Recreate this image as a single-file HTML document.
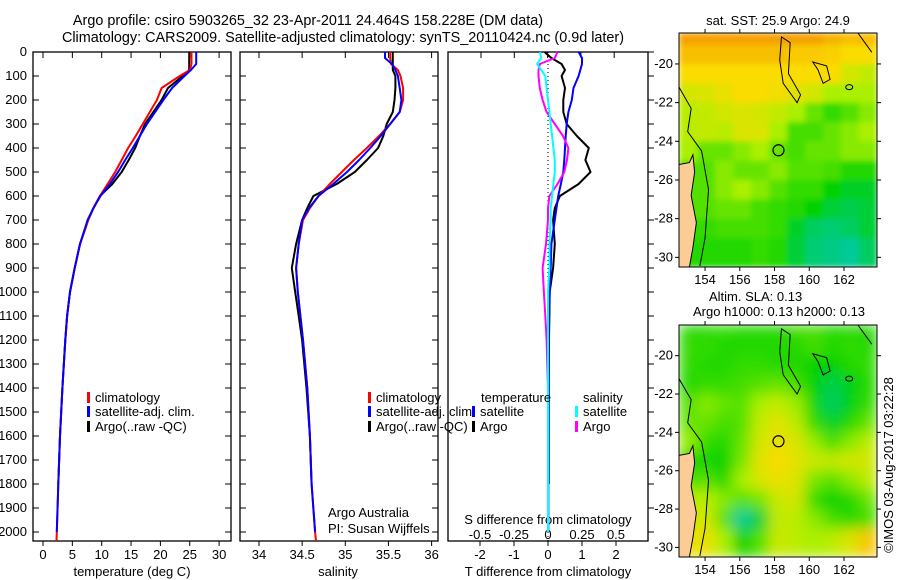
<!DOCTYPE html>
<html><head><meta charset="utf-8"><style>
body{margin:0;background:#fff}
svg{display:block;font-family:"Liberation Sans",sans-serif;font-size:13px}
</style></head><body>
<svg id="c" width="900" height="580" viewBox="0 0 900 580">
<defs><filter id="blur" x="0" y="0" width="1" height="1"><feGaussianBlur stdDeviation="7" edgeMode="duplicate"/></filter>
<filter id="blur2" x="0" y="0" width="1" height="1"><feGaussianBlur stdDeviation="3" edgeMode="duplicate"/></filter>
<clipPath id="clip1"><rect x="679" y="33" width="198" height="234"/></clipPath>
<clipPath id="clip2"><rect x="679" y="325" width="198" height="232"/></clipPath></defs>
<text x="308" y="25" text-anchor="middle" style="font-size:14.4px">Argo profile: csiro 5903265_32 23-Apr-2011 24.464S 158.228E (DM data)</text>
<text x="343" y="42" text-anchor="middle" style="font-size:14.4px">Climatology: CARS2009. Satellite-adjusted climatology: synTS_20110424.nc (0.9d later)</text>
</svg>
<script>
const depths=[0,25,50,75,100,150,200,250,300,350,400,450,500,550,600,650,700,800,900,1000,1100,1200,1400,1600,1800,2000,2037];
const tempArgo=[24.9,24.9,24.9,24.9,23.8,21.3,20.2,18.8,17.4,16.5,15.7,14.6,13.4,11.8,9.7,8.6,7.7,6.3,5.4,4.6,4.1,3.8,3.3,2.9,2.6,null,null];
const tempClim=[25.3,25.3,25.3,25.0,23.3,20.2,19.4,18.2,17.0,15.8,14.5,13.4,12.3,11.0,9.7,8.6,7.7,6.3,5.4,4.6,4.1,3.8,3.3,2.9,2.6,2.35,2.3];
const tempSat=[26.1,26.1,26.1,25.2,24.1,22.0,20.5,19.1,17.7,16.5,15.3,14.0,12.8,11.4,9.8,8.6,7.6,6.3,5.4,4.6,4.1,3.8,3.3,2.9,2.6,2.35,null];
const salArgo=[35.55,35.55,35.55,35.55,35.58,35.58,35.57,35.55,35.48,35.44,35.38,35.25,35.11,34.9,34.63,34.56,34.5,34.43,34.38,34.42,34.46,34.5,34.55,34.59,34.61,null,null];
const salClim=[35.52,35.52,35.53,35.61,35.64,35.67,35.67,35.63,35.52,35.39,35.25,35.1,34.96,34.82,34.69,34.59,34.51,34.46,34.43,34.45,34.48,34.51,34.56,34.59,34.61,34.65,34.66];
const salSat=[35.46,35.46,35.54,35.58,35.61,35.63,35.65,35.63,35.52,35.41,35.29,35.16,35.02,34.86,34.69,34.58,34.5,34.46,34.43,34.45,34.48,34.51,34.56,34.59,34.61,34.65,null];
const dTsat=[0.9,1.0,1.0,0.95,0.9,0.75,0.7,0.6,0.55,0.52,0.5,0.48,0.45,0.38,0.3,0.25,0.2,0.1,0.08,0.05,0.03,0.02,0.02,0.01,0.01,0.01,null];
const dTargo=[-0.1,0.1,0.4,0.5,0.4,0.5,0.45,0.45,0.55,0.85,1.2,1.1,1.25,0.9,0.35,0.2,0.15,0.2,0.15,0.05,0.04,0.03,0.02,0.02,0.02,null,null];
const dSargo=[0.07,0.05,-0.06,-0.07,-0.07,-0.06,-0.04,-0.01,0.05,0.11,0.15,0.14,0.12,0.07,0.01,0.0,0.0,-0.015,-0.04,-0.03,-0.02,-0.01,0,0,0,null,null];
const dSsat=[-0.06,-0.05,-0.08,-0.05,-0.02,-0.01,0,0.01,0.02,0.03,0.04,0.05,0.05,0.04,0.03,0.02,0.02,0.01,0.01,0,0,0,0,0,0,0,null];
const depthTicks=[0,100,200,300,400,500,600,700,800,900,1000,1100,1200,1300,1400,1500,1600,1700,1800,1900,2000];
const tempTicks=[0,5,10,15,20,25,30];
const salTicks=[34,34.5,35,35.5,36];
const tdTicks=[-2,-1,0,1,2];
const sdTicks=[-0.5,-0.25,0,0.25,0.5];
const sdLabels=["-0.5","-0.25","0","0.25","0.5"];
const lats=[-18.5,-19.5,-20.5,-21.5,-22.5,-23.5,-24.5,-25.5,-26.5,-27.5,-28.5,-29.5];
const sstGrid=[
[4,4,4,4,4,4,4,4,3.7,3.5,3.5],[3.5,3.5,3.5,3.5,3.5,3.5,3.3,3.3,3.2,3,3],[3,3,3,3,3,3,3,3,3,2.5,2.3],
[2.5,2.6,2.8,3,3,2.9,2.7,2.5,2,2,2],[2.2,2.3,2.5,2.6,2.5,2.3,2,1.6,1.3,1.5,1.8],[2.2,2.3,2.2,2.6,2.6,2,1.4,1.4,1.6,1.8,2],
[2,1.6,1.6,1.8,2,1.6,1.4,1.6,1.6,1.8,1.8],[1.5,1.5,1.8,1.6,1.6,1.8,1.5,1.5,1.4,1.2,1.2],[1.5,1.5,1.8,2,1.8,1.5,1.3,1.3,1,0.8,0.8],
[1.5,1.5,1.6,1.6,1.4,1.3,1.2,1,0.7,0.6,0.7],[1.3,1.3,1.4,1.4,1.4,1.3,0.8,0.5,0.4,0.5,0.7],[1.2,1.2,1.2,1.2,1.3,1.2,0.7,0.4,0.3,0.2,0.5]];
const slaGrid=[
[1.2,1.2,1.3,1.2,1.2,1.2,1.4,1.4,1.2,1.2,1.2],[1.3,1.3,1.2,1.2,1.2,1.2,1.2,1.4,1.2,1.3,1.2],[1.3,1.2,1.2,1.3,1.3,1.2,1.2,1,1,1.2,1.3],
[1.2,1.3,1.3,1.4,1.5,1.6,1.4,1,0.6,0.9,1.2],[1.5,1.8,1.6,1.5,2,2.3,1.9,1.1,0.5,0.9,1.3],[1.6,1.6,1.4,1.5,2.3,2.7,2.2,1.3,0.8,1.2,1.6],
[1.9,1.3,1.2,1.6,2.5,2.8,2.6,1.9,1.4,1.8,2.2],[1.1,1.1,1.0,1.7,2.7,3,2.7,2.4,2.3,2.5,2.5],[1.5,1.5,1.2,2,2.6,2.8,2.6,1.7,1.5,1.8,2.2],
[2.2,2.2,1.8,1.5,1.7,2.4,2.5,1.3,1.0,1.2,1.6],[2.5,2.5,1.5,0.2,0.7,2.3,2.2,1.8,1.4,1.2,1.4],[2.8,2.8,2,1,1.5,2.4,2.2,2,2.2,2.6,3.4]];
const lonTicks=[154,156,158,160,162];
const latTicks=[-20,-22,-24,-26,-28,-30];

const svg=document.getElementById('c');const NS='http://www.w3.org/2000/svg';
function mk(t,a,p){const e=document.createElementNS(NS,t);for(const k in a)e.setAttribute(k,a[k]);(p||svg).appendChild(e);return e;}
function txt(x,y,s,anchor){const e=mk('text',{x:x,y:y,'text-anchor':anchor||'start'});e.textContent=s;return e;}
const yD=d=>52+d*0.24;
const PB=541;
function panel(x0,x1,name){const r=mk('rect',{x:x0,y:52,width:x1-x0,height:PB-52,fill:'none',stroke:'#000','stroke-width':1.3});

}
function line(xs,xf,color,name,w){let d='';let pen=false;
for(let i=0;i<depths.length;i++){const v=xs[i];if(v===null){pen=false;continue;}
const X=xf(v),Y=Math.min(yD(depths[i]),PB);d+=(pen?'L':'M')+X.toFixed(1)+' '+Y.toFixed(1);pen=true;}
const p=mk('path',{d:d,fill:'none',stroke:color,'stroke-width':w||2,'stroke-linejoin':'round'});

}
const xT=v=>43+v*5.87, xS=v=>259+(v-34)*86.3, xTD=v=>548+v*34, xSD=v=>548+v*136;
const panels=[[33,231],[240,438],[448,648]];
panels.forEach((p,i)=>{panel(p[0],p[1],['temperature-panel','salinity-panel','difference-panel'][i]);
depthTicks.forEach(d=>{const y=yD(d);
if(i<2){mk('line',{x1:p[0],x2:p[0]+6,y1:y,y2:y,stroke:'#000'});mk('line',{x1:p[1],x2:p[1]-6,y1:y,y2:y,stroke:'#000'});}
else{mk('line',{x1:p[1],x2:p[1]+6,y1:y,y2:y,stroke:'#000'});}});});
depthTicks.forEach(d=>{const t=txt(27,yD(d)+4,String(d),'end');

});
tempTicks.forEach(v=>{mk('line',{x1:xT(v),x2:xT(v),y1:PB,y2:PB+5,stroke:'#000'});mk('line',{x1:xT(v),x2:xT(v),y1:52,y2:58,stroke:'#000'});
const t=txt(xT(v),559,String(v),'middle');});
salTicks.forEach(v=>{mk('line',{x1:xS(v),x2:xS(v),y1:PB,y2:PB+5,stroke:'#000'});mk('line',{x1:xS(v),x2:xS(v),y1:52,y2:58,stroke:'#000'});
const t=txt(xS(v),559,String(v),'middle');});
tdTicks.forEach(v=>{mk('line',{x1:xTD(v),x2:xTD(v),y1:PB,y2:PB+5,stroke:'#000'});mk('line',{x1:481+(v+2)*33.3,x2:481+(v+2)*33.3,y1:52,y2:58,stroke:'#000'});
const t=txt(xTD(v),559,String(v),'middle');});
sdTicks.forEach((v,i)=>{const t=txt(xSD(v),539,sdLabels[i],'middle');});
let t;
t=txt(132,576,'temperature (deg C)','middle');
t=txt(338,576,'salinity','middle');
t=txt(548,576,'T difference from climatology','middle');
t=txt(548,524,'S difference from climatology','middle');
t=txt(328,517,'Argo Australia');
t=txt(328,533,'PI: Susan Wijffels');
mk('line',{x1:548,x2:548,y1:52,y2:PB,stroke:'#000','stroke-dasharray':'1,3'});
line(tempArgo,xT,'#000','temp-argo-line');line(tempClim,xT,'#f00','temp-clim-line');line(tempSat,xT,'#00f','temp-sat-line');
line(salArgo,xS,'#000','sal-argo-line');line(salClim,xS,'#f00','sal-clim-line');line(salSat,xS,'#00f','sal-sat-line');
line(dTargo,xTD,'#000','tdiff-argo-line');line(dTsat,xTD,'#00f','tdiff-sat-line');line(dSargo,xSD,'#f0f','sdiff-argo-line');line(dSsat,xSD,'#0ff','sdiff-sat-line');
function leg(x,y,c,s,name){mk('rect',{x:x,y:y-10,width:3,height:11,fill:c});const e=txt(x+8,y,s);

}
[[87,95],[368,376]].forEach((p,i)=>{leg(p[0],402,'#f00','climatology','legend-climatology');leg(p[0],416,'#00f','satellite-adj. clim.','legend-satellite-adj');leg(p[0],431,'#000','Argo(..raw -QC)','legend-argo');});
t=txt(481,402,'temperature');
t=txt(583,402,'salinity');
leg(472,416,'#00f','satellite','legend-t-satellite');leg(472,431,'#000','Argo','legend-t-argo');
leg(575,416,'#0ff','satellite','legend-s-satellite');leg(575,431,'#f0f','Argo','legend-s-argo');
// maps
function cmap(v){const st=[[0,[0,200,190]],[1,[0,210,0]],[2,[170,240,0]],[3,[250,220,0]],[4,[245,160,0]]];
v=Math.max(0,Math.min(4,v));const i=Math.min(3,Math.floor(v)),f=v-i;const a=st[i][1],b=st[i+1][1];
return 'rgb('+a.map((q,k)=>Math.round(q+(b[k]-q)*f)).join(',')+')';}
function map(top,bot,grid,name,filt,clip){const L=679,R=877,lon0=152.5,lon1=163.9;
const lx=lo=>L+(lo-lon0)/(lon1-lon0)*(R-L);
const latTop=-18.4,latBot=-30.5;const ly=la=>top+(la-latTop)/(latBot-latTop)*(bot-top);
const g=mk('g',{});
const cg=mk('g',{'clip-path':'url(#'+clip+')'},g);
const hg=mk('g',{filter:'url(#'+filt+')'},cg);
const nc=grid[0].length;const cw=(R-L)/nc;
lats.forEach((la,r)=>{grid[r].forEach((v,c)=>{const y0=ly(la+0.5),y1=ly(la-0.5);
mk('rect',{x:L+c*cw,y:r===0?top:y0,width:cw+0.5,height:(r===lats.length-1?bot:y1)-(r===0?top:y0)+0.5,fill:cmap(v)},hg);});});
mk('path',{d:`M${L} ${ly(-25.2)} L${lx(153.1)} ${ly(-25.1)} L${lx(153.3)} ${ly(-24.7)} L${lx(153.4)} ${ly(-25.6)} L${lx(153.2)} ${ly(-26.8)} L${lx(153.5)} ${ly(-28.2)} L${lx(153.3)} ${ly(-29.5)} L${lx(153.1)} ${ly(-30.5)} L${L} ${bot} Z`,fill:'#fccb96',stroke:'#000'},cg);
mk('path',{d:`M${L} ${ly(-21.2)} L${lx(153.2)} ${ly(-22.3)} L${lx(153)} ${ly(-23.5)} L${lx(153.8)} ${ly(-24.5)} L${lx(154.2)} ${ly(-26.5)} L${lx(154)} ${ly(-29)} L${lx(153.7)} ${bot-1}`,fill:'none',stroke:'#000'},cg);
mk('path',{d:`M${lx(158.4)} ${ly(-18.6)} L${lx(158.9)} ${ly(-18.9)} L${lx(158.8)} ${ly(-20.5)} L${lx(159.5)} ${ly(-21.6)} L${lx(159.3)} ${ly(-22.0)} L${lx(158.5)} ${ly(-21)} L${lx(158.3)} ${ly(-19.8)} Z`,fill:'none',stroke:'#000'},cg);
mk('path',{d:`M${lx(160.2)} ${ly(-19.9)} L${lx(161.0)} ${ly(-20.1)} L${lx(161.2)} ${ly(-20.8)} L${lx(160.8)} ${ly(-21.0)} L${lx(160.5)} ${ly(-20.3)} Z M${lx(162.8)} ${top} L${lx(163.6)} ${ly(-19.4)}`,fill:'none',stroke:'#000'},cg);
mk('ellipse',{cx:lx(162.3),cy:ly(-21.2),rx:3.5,ry:2.5,fill:'none',stroke:'#000'},cg);
mk('circle',{cx:lx(158.228),cy:ly(-24.464),r:5.5,fill:'none',stroke:'#000','stroke-width':1.2},g);
mk('rect',{x:L,y:top,width:R-L,height:bot-top,fill:'none',stroke:'#000'},g);
lonTicks.forEach(lo=>{mk('line',{x1:lx(lo),x2:lx(lo),y1:top,y2:top-4,stroke:'#000'},g);mk('line',{x1:lx(lo),x2:lx(lo),y1:bot,y2:bot+4,stroke:'#000'},g);
const e=txt(lx(lo),bot+17,String(lo),'middle');});
latTicks.forEach(la=>{mk('line',{x1:L,x2:L-4,y1:ly(la),y2:ly(la),stroke:'#000'},g);mk('line',{x1:R,x2:R+4,y1:ly(la),y2:ly(la),stroke:'#000'},g);
const e=txt(L-6,ly(la)+4,String(la),'end');});}
map(33,267,sstGrid,'sst-map','blur2','clip1');map(325,557,slaGrid,'sla-map','blur','clip2');
t=txt(778,25,'sat. SST: 25.9 Argo: 24.9','middle');
t=txt(709,301,'Altim. SLA: 0.13');
t=txt(693,316,'Argo h1000: 0.13 h2000: 0.13');
t=txt(0,0,'©IMOS 03-Aug-2017 03:22:28','middle');t.setAttribute('transform','translate(893,465) rotate(-90)');

</script>
</body></html>
